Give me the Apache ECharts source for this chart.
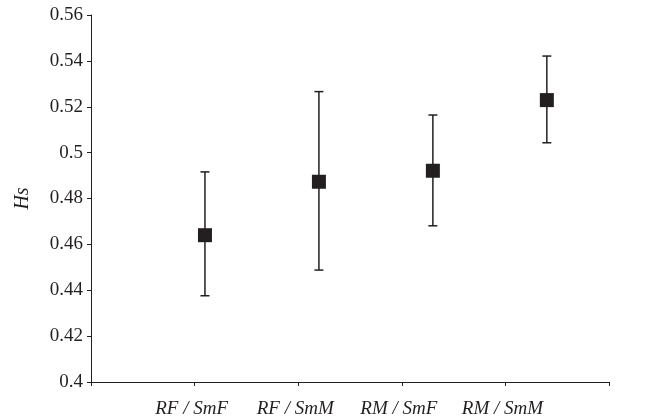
<!DOCTYPE html>
<html>
<head>
<meta charset="utf-8">
<script src="https://cdn.jsdelivr.net/npm/echarts@6/dist/echarts.min.js"></script>
<style>html,body{margin:0;padding:0;background:#fff}#c{width:663px;height:419px}</style>
</head>
<body>
<div id="c"></div>
<script>
var categories = ['RF / SmF', 'RF / SmM', 'RM / SmF', 'RM / SmM'];
var xPositions = [1.1, 2.2, 3.3, 4.4];
var means = [0.464, 0.4873, 0.4921, 0.5229];
var lower = [0.4376, 0.4488, 0.4681, 0.5043];
var upper = [0.4916, 0.5266, 0.5164, 0.5421];
var yTicks = {min: 0.4, max: 0.56, interval: 0.02};

var chart = echarts.init(document.getElementById('c'));
var serif = 'Liberation Serif';
var ink = '#231f20';

var errData = xPositions.map(function (x, i) { return [x, lower[i], upper[i]]; });
var ptData = xPositions.map(function (x, i) { return [x, means[i]]; });

chart.setOption({
  animation: false,
  grid: {left: 91, right: 54, top: 15, bottom: 37},
  xAxis: {
    type: 'value', min: 0, max: 5, interval: 1,
    axisLine: {lineStyle: {color: ink, width: 1}},
    axisTick: {show: true, length: 4, lineStyle: {color: ink}},
    splitLine: {show: false},
    axisLabel: {
      margin: 17, padding: [0, 6, 0, 0],
      fontFamily: serif, fontStyle: 'italic', fontSize: 19, color: ink,
      formatter: function (v) {
        var i = Math.round(v) - 1;
        return (i >= 0 && i < categories.length) ? categories[i] : '';
      }
    }
  },
  yAxis: {
    type: 'value', min: yTicks.min, max: yTicks.max, interval: yTicks.interval,
    name: 'Hs', nameLocation: 'middle', nameGap: 58,
    nameTextStyle: {fontFamily: serif, fontStyle: 'italic', fontSize: 20, color: ink},
    axisLine: {show: true, lineStyle: {color: ink, width: 1}},
    axisTick: {show: true, length: 4, lineStyle: {color: ink}},
    splitLine: {show: false},
    axisLabel: {
      margin: 8, fontFamily: serif, fontSize: 19, color: ink,
      formatter: function (v) { return String(parseFloat(v.toFixed(2))); }
    }
  },
  series: [
    {
      type: 'custom',
      data: errData,
      z: 2,
      renderItem: function (params, api) {
        var x = api.value(0);
        var lo = api.coord([x, api.value(1)]);
        var hi = api.coord([x, api.value(2)]);
        var cw = 4.5;
        var st = {stroke: ink, lineWidth: 1.5};
        return {
          type: 'group',
          children: [
            {type: 'line', shape: {x1: lo[0], y1: lo[1], x2: hi[0], y2: hi[1]}, style: st},
            {type: 'line', shape: {x1: lo[0] - cw, y1: lo[1], x2: lo[0] + cw, y2: lo[1]}, style: st},
            {type: 'line', shape: {x1: hi[0] - cw, y1: hi[1], x2: hi[0] + cw, y2: hi[1]}, style: st}
          ]
        };
      }
    },
    {
      type: 'scatter',
      data: ptData,
      z: 3,
      symbol: 'rect',
      symbolSize: 14,
      itemStyle: {color: ink, opacity: 1}
    }
  ]
});
</script>
</body>
</html>
